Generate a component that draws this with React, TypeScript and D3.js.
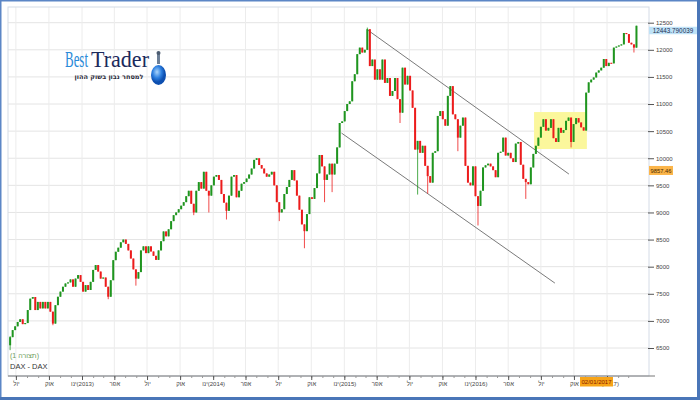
import React, { useEffect, useRef } from 'react';
import * as d3 from 'd3';

// weekly DAX candles, first week ending 15 Jun 2012
const firstWeek = new Date(2012, 5, 15);
const firstOpen = 6550;
const closes = [
  6700, 6830, 6900, 6980, 7030, 6940, 6960, 7200, 7410, 7440,
  7200, 7350, 7230, 7350, 7230, 7350, 7170, 6950, 7290, 7445,
  7540, 7630, 7690, 7710, 7765, 7630, 7780, 7845, 7720, 7540,
  7660, 7570, 7720, 7940, 8030, 7910, 7780, 7800, 7630, 7445,
  7750, 8120, 8275, 8350, 8450, 8500, 8420, 8300, 8150, 7950,
  7780, 7900, 8300, 8375, 8250, 8375, 8280, 8200, 8125, 8300,
  8470, 8650, 8560, 8690, 8840, 8950, 9000, 9060, 9125, 9190,
  9300, 9400, 9160, 9000, 9400, 9560, 9440, 9750, 9400, 9310,
  9500, 9660, 9690, 9600, 9340, 9180, 9030, 9310, 9660, 9690,
  9280, 9400, 9530, 9560, 9625, 9700, 9810, 9970, 10000, 9875,
  9810, 9720, 9660, 9700, 9750, 9500, 9190, 9000, 9060, 9340,
  9470, 9600, 9780, 9590, 9310, 9050, 8780, 8655, 8970, 9280,
  9250, 9450, 9720, 10060, 9850, 9600, 9700, 9900, 9700, 9900,
  10200, 10650, 10680, 10870, 11000, 11050, 11420, 11550, 11920, 12040,
  11950, 12000, 12380, 11700, 11820, 11450, 11640, 11450, 11820, 11390,
  11480, 11150, 11240, 11480, 11090, 10840, 11670, 11360, 11520, 11250,
  10930, 10160, 10320, 10100, 10230, 9860, 9670, 9550, 10100, 10130,
  10780, 10870, 10720, 10600, 11150, 11330, 10810, 10720, 10380, 10600,
  10750, 9860, 9550, 9500, 9850, 9300, 9120, 9400, 9830, 9870,
  9900, 9850, 9780, 9650, 10100, 10120, 10380, 10050, 10100, 10000,
  9930, 10270, 10300, 9880, 9620, 9560, 9520, 9830, 10080, 10230,
  10380, 10580, 10720, 10510, 10560, 10720, 10370, 10300, 10560, 10470,
  10520, 10690, 10750, 10300, 10630, 10740, 10660, 10570, 10510, 11210,
  11400, 11450, 11490, 11580, 11620, 11670, 11830, 11700, 11760, 11750,
  12040, 12060, 12080, 12100, 12310, 12290, 12130, 12100, 12040, 12443.79,
];
// [week index, price] for the wicks that stand out
const wickLows: [number, number][] = [
  [0, 6460], [17, 6920], [39, 7400], [50, 7650], [73, 8950], [79, 9000], [86, 8870],
  [107, 8840], [117, 8340], [125, 9190], [128, 9375], [155, 10650], [162, 9330],
  [166, 9350], [178, 10130], [186, 8760], [205, 9250], [223, 10200], [248, 11950],
];
const wickHighs: [number, number][] = [[0, 6720], [142, 12410]];

const priceTicks = [6500, 7000, 7500, 8000, 8500, 9000, 9500, 10000, 10500, 11000, 11500, 12000, 12500];
const monthLabels: Record<number, string> = { 0: 'ינו', 3: 'אפר', 6: 'יול', 9: 'אוק' };

const lastPrice = 12443.790039;
const crossPrice = 9857.46;
const crossDate = '02/01/2017';

const upperChannel = [{ date: new Date(2015, 2, 7), value: 12365 }, { date: new Date(2016, 8, 17), value: 9708 }];
const lowerChannel = [{ date: new Date(2014, 11, 24), value: 10465 }, { date: new Date(2016, 7, 9), value: 7697 }];
const consolidation = { from: new Date(2016, 5, 12), to: new Date(2016, 10, 6), low: 10170, high: 10852 };

const axisFont = "'Liberation Sans Narrow', 'Liberation Sans', sans-serif";

export default function App() {
  const svgRef = useRef<SVGSVGElement>(null);

  useEffect(() => {
    if (!svgRef.current) return;
    const svg = d3.select(svgRef.current);
    svg.selectAll('*').remove();

    const plot = { left: 8, right: 649, top: 7, bottom: 376 };
    const x = d3.scaleTime().domain([new Date(2013, 0, 1), new Date(2017, 0, 1)]).range([82, 607]);
    const y = d3.scaleLinear().domain([6500, 12500]).range([348, 22.7]);

    const candles = closes.map((close, i) => {
      const open = i === 0 ? firstOpen : closes[i - 1];
      const lo = wickLows.find(w => w[0] === i);
      const hi = wickHighs.find(w => w[0] === i);
      return {
        date: d3.timeDay.offset(firstWeek, 7 * i),
        open,
        close,
        low: lo ? lo[1] : Math.min(open, close),
        high: hi ? hi[1] : Math.max(open, close),
      };
    });

    svg.append('rect').attr('width', 700).attr('height', 400).attr('fill', '#fff');

    const end = candles[candles.length - 1].date;
    const quarters = d3.timeMonth.every(3)!.range(new Date(2012, 6, 1), end);
    const months = d3.timeMonth.range(new Date(2012, 6, 1), end);

    // grid
    svg.append('g').selectAll('line').data(priceTicks).enter().append('line')
      .attr('x1', plot.left).attr('x2', plot.right)
      .attr('y1', d => y(d)).attr('y2', d => y(d))
      .attr('stroke', '#e4e4e4');
    svg.append('g').selectAll('line').data(quarters).enter().append('line')
      .attr('x1', d => x(d)).attr('x2', d => x(d))
      .attr('y1', plot.top).attr('y2', plot.bottom)
      .attr('stroke', '#ececec');

    svg.append('rect')
      .attr('x', plot.left).attr('y', plot.top)
      .attr('width', plot.right - plot.left).attr('height', plot.bottom - plot.top)
      .attr('fill', 'none').attr('stroke', '#d4dbe6');

    // highlighted consolidation box
    svg.append('rect')
      .attr('x', x(consolidation.from)).attr('y', y(consolidation.high))
      .attr('width', x(consolidation.to) - x(consolidation.from))
      .attr('height', y(consolidation.low) - y(consolidation.high))
      .attr('fill', '#fbf79c');

    // logo
    const logo = svg.append('g');
    const serif = "'Liberation Serif', 'DejaVu Serif', serif";
    logo.append('text').attr('x', 65).attr('y', 67).attr('fill', '#2a8ad8')
      .attr('textLength', 23).attr('lengthAdjust', 'spacingAndGlyphs')
      .style('font-family', serif).style('font-size', '23px').text('Best');
    logo.append('text').attr('x', 91).attr('y', 67).attr('fill', '#1b2a5c')
      .attr('textLength', 58).attr('lengthAdjust', 'spacingAndGlyphs')
      .style('font-family', serif).style('font-size', '23px').text('Trader');
    logo.append('text').attr('x', 109).attr('y', 79)
      .attr('text-anchor', 'middle').attr('direction', 'rtl')
      .style('font-family', "'DejaVu Sans', sans-serif").style('font-size', '6.5px').style('font-weight', 'bold')
      .attr('fill', '#2b2b3a').text('למסחר נבון בשוק ההון');
    const grad = svg.append('defs').append('radialGradient').attr('id', 'globe').attr('cx', '40%').attr('cy', '35%');
    grad.append('stop').attr('offset', '0%').attr('stop-color', '#a9d4fb');
    grad.append('stop').attr('offset', '60%').attr('stop-color', '#2c7fe0');
    grad.append('stop').attr('offset', '100%').attr('stop-color', '#0d4fb0');
    logo.append('rect').attr('x', 157).attr('y', 52).attr('width', 3).attr('height', 12).attr('fill', '#6d7f96');
    logo.append('circle').attr('cx', 158.5).attr('cy', 53).attr('r', 2).attr('fill', '#4b5b70');
    logo.append('ellipse').attr('cx', 158.5).attr('cy', 75).attr('rx', 7.5).attr('ry', 10).attr('fill', 'url(#globe)');

    // channel lines
    const line = d3.line<{ date: Date; value: number }>().x(d => x(d.date)).y(d => y(d.value));
    [upperChannel, lowerChannel].forEach(ch => {
      svg.append('path').attr('d', line(ch)).attr('fill', 'none').attr('stroke', '#7a7a7a').attr('stroke-width', 1);
    });

    // candles
    const up = '#1f951f';
    const down = '#ec1c1c';
    const cg = svg.append('g');
    cg.selectAll('line').data(candles).enter().append('line')
      .attr('x1', d => x(d.date)).attr('x2', d => x(d.date))
      .attr('y1', d => y(d.high)).attr('y2', d => y(d.low))
      .attr('stroke', d => (d.close >= d.open ? up : down)).attr('stroke-width', 0.8);
    cg.selectAll('rect').data(candles).enter().append('rect')
      .attr('x', d => x(d.date) - 1)
      .attr('width', 2)
      .attr('y', d => y(Math.max(d.open, d.close)))
      .attr('height', d => Math.max(1, Math.abs(y(d.open) - y(d.close))))
      .attr('fill', d => (d.close >= d.open ? up : down));

    // right price axis
    const yAxis = svg.append('g')
      .attr('transform', `translate(${plot.right - 1},0)`)
      .call(d3.axisRight(y).tickValues(priceTicks).tickSize(6).tickPadding(2).tickFormat(d3.format('d')));
    yAxis.select('.domain').remove();
    yAxis.selectAll('line').attr('stroke', '#555');
    yAxis.selectAll('text').attr('fill', '#444').style('font-family', axisFont).style('font-size', '6px');

    // bottom time axis
    svg.append('line').attr('x1', plot.left).attr('x2', 655).attr('y1', plot.bottom).attr('y2', plot.bottom)
      .attr('stroke', '#777');
    const minor = svg.append('g').attr('transform', `translate(0,${plot.bottom})`)
      .call(d3.axisBottom(x).tickValues(months).tickSize(2).tickFormat(() => ''));
    minor.select('.domain').remove();
    minor.selectAll('line').attr('stroke', '#999');
    const xAxis = svg.append('g').attr('transform', `translate(0,${plot.bottom})`)
      .call(d3.axisBottom(x).tickValues(quarters).tickSize(4).tickPadding(2)
        .tickFormat(d => {
          const dt = d as Date;
          const m = monthLabels[dt.getMonth()];
          return dt.getMonth() === 0 ? `\u200E${m}\u200E(${dt.getFullYear()})` : m;
        }));
    xAxis.select('.domain').remove();
    xAxis.selectAll('line').attr('stroke', '#555');
    xAxis.selectAll('text').attr('fill', '#444').attr('direction', 'ltr')
      .style('font-family', axisFont).style('font-size', '6px');

    // price/date flags
    const flag = (px: number, py: number, w: number, h: number, bg: string, fg: string, label: string, size: number) => {
      svg.append('rect').attr('x', px).attr('y', py).attr('width', w).attr('height', h).attr('fill', bg);
      svg.append('text').attr('x', px + w / 2).attr('y', py + h / 2 + size * 0.36)
        .attr('text-anchor', 'middle').attr('fill', fg)
        .style('font-family', "'Liberation Sans', sans-serif").style('font-size', `${size}px`)
        .text(label);
    };
    flag(plot.right, y(lastPrice) + 1, 48, 7.5, '#bfe2f7', '#1d2d50', d3.format('.6f')(lastPrice), 6.3);
    flag(plot.right, y(crossPrice), 24, 9, '#fbb54a', '#4a2a00', String(crossPrice), 5.8);
    flag(580, plot.bottom + 1, 33, 9.5, '#f7a418', '#8a1a00', crossDate, 6);

    // series caption
    svg.append('text').attr('x', 10).attr('y', 358).attr('fill', '#6b9b58')
      .style('font-family', "'Liberation Sans', sans-serif").style('font-size', '7px')
      .text('(תצורה 1)');
    svg.append('text').attr('x', 10).attr('y', 369).attr('fill', '#333')
      .style('font-family', "'Liberation Sans', sans-serif").style('font-size', '7.5px')
      .text('DAX - DAX');

    // outer frame
    svg.append('rect').attr('x', 0.75).attr('y', 0.75).attr('width', 698).attr('height', 398)
      .attr('fill', 'none').attr('stroke', '#5b86c6').attr('stroke-width', 1.5);
    svg.append('line').attr('x1', 0).attr('x2', 700).attr('y1', 398.5).attr('y2', 398.5)
      .attr('stroke', '#4a76b8').attr('stroke-width', 3);
    svg.append('line').attr('x1', 698.5).attr('x2', 698.5).attr('y1', 0).attr('y2', 400)
      .attr('stroke', '#4a76b8').attr('stroke-width', 3);
  }, []);

  return (
    <svg
      ref={svgRef}
      width={700}
      height={400}
      style={{ position: 'absolute', left: 0, top: 0 }}
    />
  );
}
